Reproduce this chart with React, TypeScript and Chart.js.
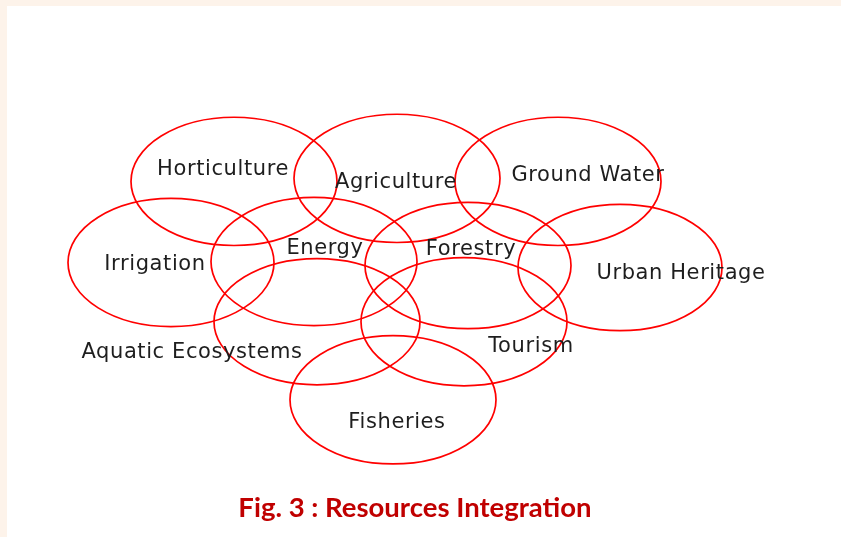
import React, { useEffect, useRef } from 'react';
import { Chart, registerables } from 'chart.js';

Chart.register(...registerables);

// Resource circles (diagram units: 1 unit ≈ 1 px, y grows downwards)
const names = [
  'Horticulture',
  'Agriculture',
  'Ground Water',
  'Irrigation',
  'Energy',
  'Forestry',
  'Urban Heritage',
  'Aquatic Ecosystems',
  'Tourism',
  'Fisheries',
];
const centerX = [234, 397, 558, 171, 314, 468, 620, 317, 464, 393];
const centerY = [181, 178, 181, 262, 261, 265, 267, 321, 321, 399];
const radiusX = [103, 103, 103, 103, 103, 103, 102, 103, 103, 103];
const radiusY = [64, 64, 64, 64, 64, 63, 63, 63, 64, 64];
const labelX = [223, 396, 588, 155, 325, 471, 681, 192, 531, 397];
const labelY = [169, 182, 175, 264, 248, 249, 273, 352, 346, 422];
const titleText = 'Fig. 3 : Resources Integration';

const ellipsePlugin = {
  id: 'ellipses',
  afterDatasetsDraw(chart: any) {
    const ctx = chart.ctx;
    const xs = chart.scales.x;
    const ys = chart.scales.y;
    const meta = chart.getDatasetMeta(0);
    ctx.save();
    meta.data.forEach((pt: any, i: number) => {
      const rx = Math.abs(xs.getPixelForValue(centerX[i] + radiusX[i]) - xs.getPixelForValue(centerX[i]));
      const ry = Math.abs(ys.getPixelForValue(centerY[i] + radiusY[i]) - ys.getPixelForValue(centerY[i]));
      ctx.beginPath();
      ctx.ellipse(pt.x, pt.y, rx, ry, 0, 0, Math.PI * 2);
      ctx.strokeStyle = '#ff0000';
      ctx.lineWidth = 1.7;
      ctx.stroke();
    });
    ctx.fillStyle = '#1e1e1e';
    ctx.font = '21px "DejaVu Sans"';
    try {
      (ctx as any).letterSpacing = '0.6px';
    } catch (e) {}
    ctx.textAlign = 'center';
    ctx.textBaseline = 'middle';
    names.forEach((n, i) => {
      ctx.fillText(n, xs.getPixelForValue(labelX[i]), ys.getPixelForValue(labelY[i]));
    });
    ctx.restore();
  },
};

export default function App() {
  const ref = useRef<HTMLCanvasElement | null>(null);
  useEffect(() => {
    if (!ref.current) return;
    const chart = new Chart(ref.current, {
      type: 'scatter',
      data: {
        datasets: [
          {
            label: 'Resources',
            data: centerX.map((x, i) => ({ x, y: centerY[i] })),
            pointRadius: 0,
            pointHoverRadius: 0,
            showLine: false,
          },
        ],
      },
      options: {
        responsive: false,
        animation: false,
        devicePixelRatio: 1,
        layout: { padding: { left: 0, right: 11, top: 0, bottom: 0 } },
        scales: {
          x: { type: 'linear', display: false, min: 0, max: 830 },
          y: { type: 'linear', display: false, min: 0, max: 481, reverse: true },
        },
        plugins: {
          legend: { display: false },
          tooltip: { enabled: false },
          title: {
            display: true,
            text: titleText,
            position: 'bottom',
            color: '#c00000',
            font: { family: 'Lato', size: 27.5, weight: 'bold', lineHeight: '32px' },
            padding: { top: 10, bottom: 13 },
          },
        },
      },
      plugins: [ellipsePlugin],
    } as any);
    return () => chart.destroy();
  }, []);

  return (
    <div
      style={{
        position: 'fixed',
        left: 0,
        top: 0,
        width: 841,
        height: 537,
        background: '#fdf3ea',
        overflow: 'hidden',
      }}
    >
      <div
        style={{
          position: 'absolute',
          left: 7,
          top: 6,
          width: 834,
          height: 531,
          background: '#ffffff',
        }}
      />
      <canvas
        ref={ref}
        width={841}
        height={537}
        style={{ position: 'absolute', left: 0, top: 0, display: 'block' }}
      />
    </div>
  );
}
